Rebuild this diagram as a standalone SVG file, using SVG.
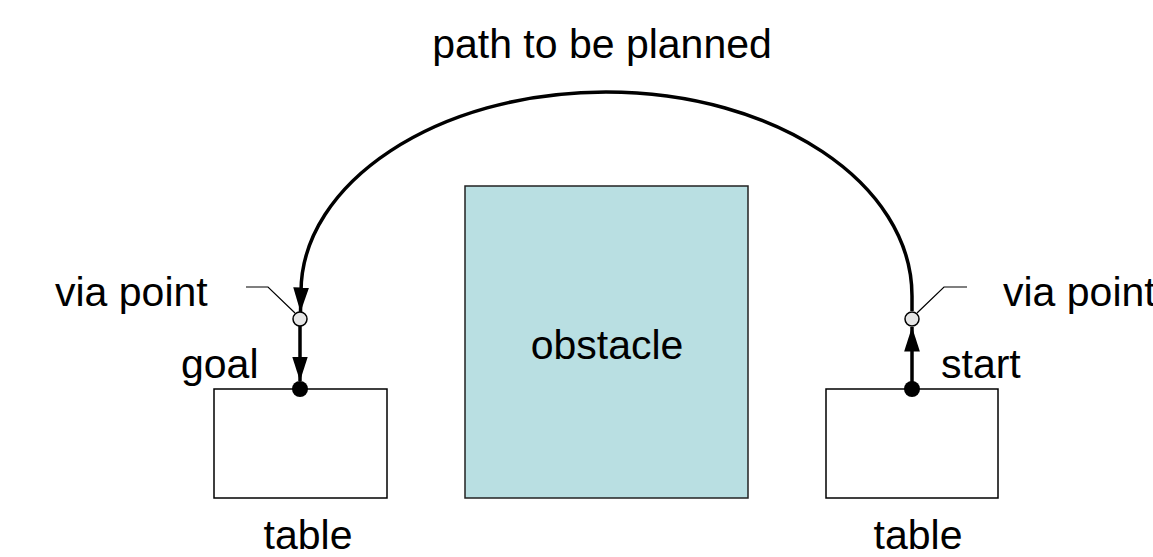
<svg xmlns="http://www.w3.org/2000/svg" width="1153" height="557" viewBox="0 0 1153 557">
<defs>
<marker id="arr" viewBox="0 0 10 10" refX="10" refY="5" markerWidth="7" markerHeight="4.5" markerUnits="strokeWidth" orient="auto" preserveAspectRatio="none">
<path d="M0,0 L10,5 L0,10 z" fill="#000"/>
</marker>
<style>
text{font-family:"Liberation Sans",Arial,sans-serif;font-size:41px;fill:#000}
.box{fill:#fff;stroke:#000;stroke-width:1.5}
.via{fill:#e6e6e6;stroke:#000;stroke-width:1.5}
.conn{fill:none;stroke:#000;stroke-width:3.5}
.lead{fill:none;stroke:#000;stroke-width:1.2}
</style>
</defs>
<rect width="1153" height="557" fill="#fff"/>
<text x="602" y="58" text-anchor="middle">path to be planned</text>
<g id="obstacle">
<rect x="465" y="186" width="283" height="312" fill="#b9dfe2" stroke="#222" stroke-width="1.5"/>
<text x="607" y="359" text-anchor="middle">obstacle</text>
</g>
<g id="table-left">
<rect class="box" x="214" y="389" width="173" height="109"/>
<text x="308" y="549" text-anchor="middle">table</text>
</g>
<g id="table-right">
<rect class="box" x="826" y="389" width="172" height="109"/>
<text x="918" y="549" text-anchor="middle">table</text>
</g>
<g id="connectors">
<path class="conn" d="M912,311 L912,296 C912,183 775,92 606,92 C437,92 301,183 301,292 L300.5,312" marker-end="url(#arr)"/>
<path class="conn" d="M300,326 L300,381" marker-end="url(#arr)"/>
<path class="conn" d="M912,389 L912,327" marker-end="url(#arr)"/>
<path class="lead" d="M246,287 L268,287 L295,313"/>
<path class="lead" d="M917,313 L944,287 L967,287"/>
</g>
<g id="via-left">
<circle class="via" cx="300" cy="319" r="7"/>
<text x="55" y="306">via point</text>
</g>
<g id="via-right">
<circle class="via" cx="912" cy="319" r="7"/>
<text x="1003" y="306">via point</text>
</g>
<g id="goal">
<circle cx="300" cy="389" r="8" fill="#000"/>
<text x="181" y="378">goal</text>
</g>
<g id="start">
<circle cx="912" cy="389" r="8" fill="#000"/>
<text x="941" y="378">start</text>
</g>
</svg>
